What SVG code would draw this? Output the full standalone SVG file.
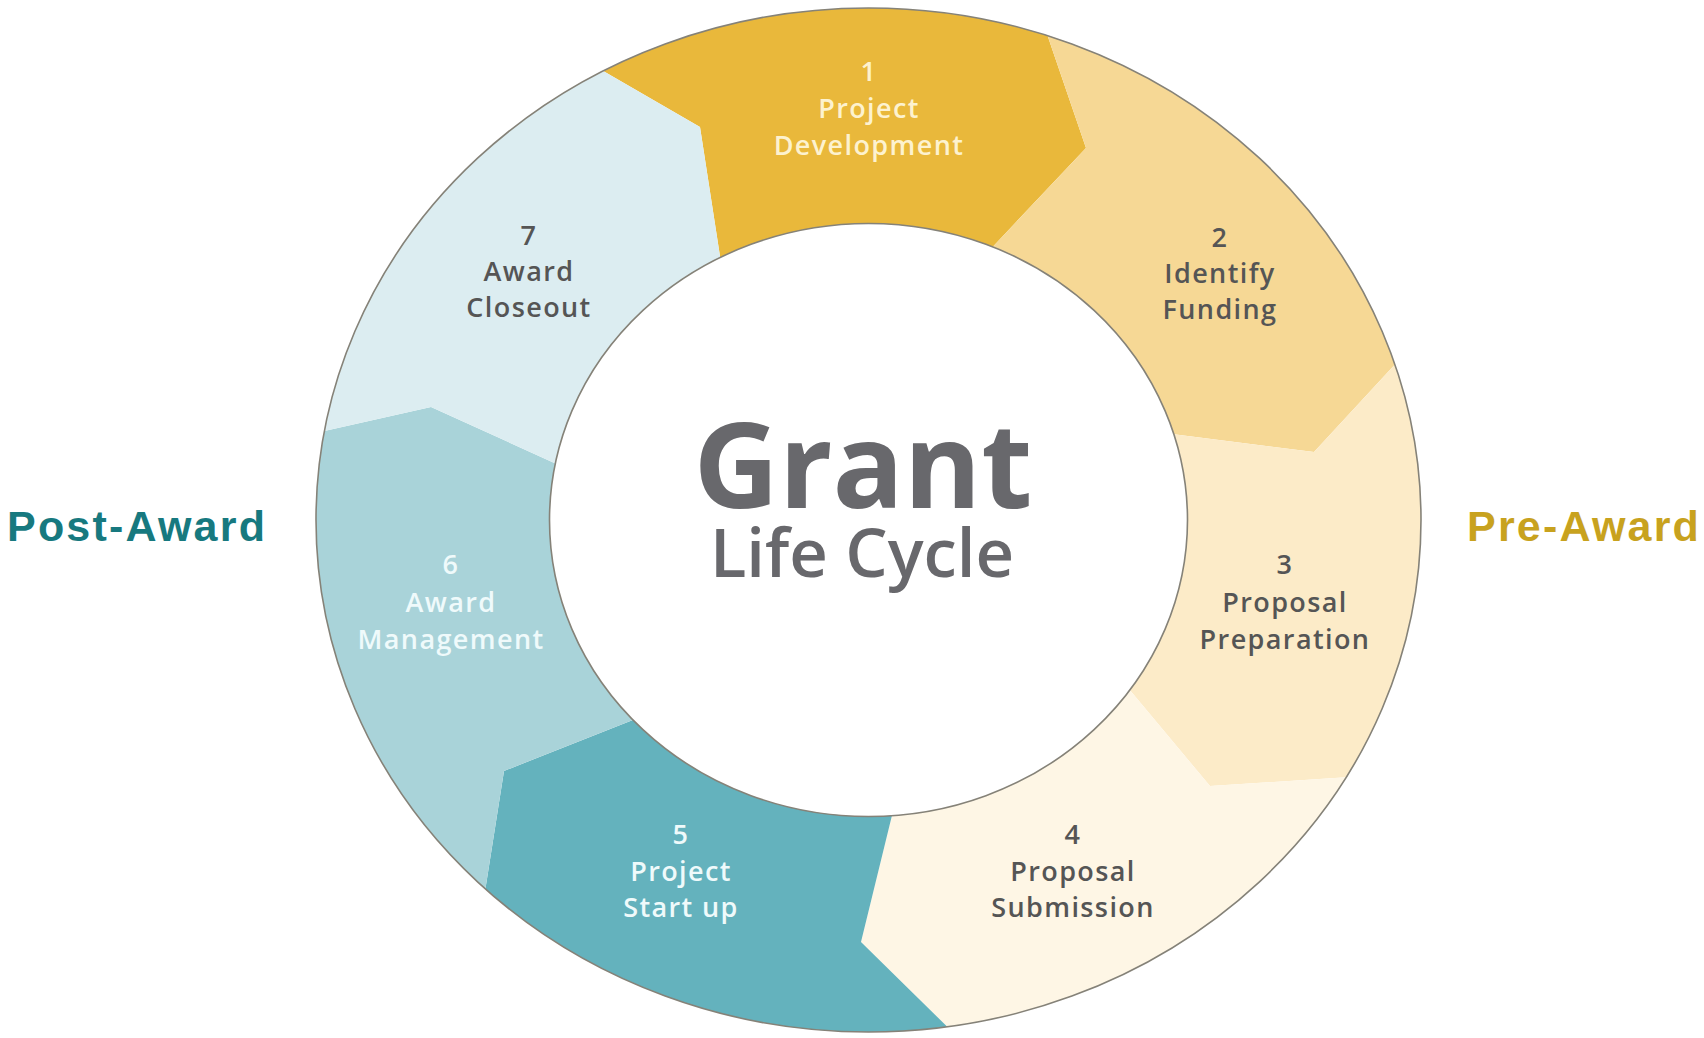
<svg xmlns="http://www.w3.org/2000/svg" width="1704" height="1038" viewBox="0 0 1704 1038">
<style>
.lbl{font-family:"Open Sans","Noto Sans",sans-serif;font-size:27px;text-anchor:middle;letter-spacing:1.4px}
.dark{fill:#555555;font-weight:600}
.lite1{fill:#fdf2cf;font-weight:600}
.lite5{fill:#effafb;font-weight:600}
.edge{fill:none;stroke:#858278;stroke-width:1.6}
.side{font-family:"Liberation Sans",Arial,sans-serif;font-size:43px;font-weight:700;letter-spacing:2.2px}
.title{font-family:"Open Sans","Noto Sans",sans-serif;fill:#68686c;text-anchor:middle}
</style>
<rect width="1704" height="1038" fill="#ffffff"/>
<g id="seg1">
<path d="M603.2,70.9 A552.5,512 0 0 1 1047.5,35.6 L1086,148 L992.6,246.9 A319,296.5 0 0 0 720.2,257.5 L700,127 Z" fill="#e9b83b"/>
<text class="lbl lite1" x="869" y="81">1</text>
<text class="lbl lite1" x="869" y="118">Project</text>
<text class="lbl lite1" x="869" y="155">Development</text>
</g>
<g id="seg2">
<path d="M1047.5,35.6 A552.5,512 0 0 1 1394.9,364.4 L1314,452 L1173.9,434.3 A319,296.5 0 0 0 992.6,246.9 L1086,148 Z" fill="#f6d895"/>
<text class="lbl dark" x="1220" y="247">2</text>
<text class="lbl dark" x="1220" y="283">Identify</text>
<text class="lbl dark" x="1220" y="319">Funding</text>
</g>
<g id="seg3">
<path d="M1394.9,364.4 A552.5,512 0 0 1 1346.2,777.3 L1210,786 L1129.8,690.1 A319,296.5 0 0 0 1173.9,434.3 L1314,452 Z" fill="#fcebc8"/>
<text class="lbl dark" x="1285" y="574">3</text>
<text class="lbl dark" x="1285" y="612">Proposal</text>
<text class="lbl dark" x="1285" y="649">Preparation</text>
</g>
<g id="seg4">
<path d="M1346.2,777.3 A552.5,512 0 0 1 947.3,1026.8 L861,942 L891.9,815.7 A319,296.5 0 0 0 1129.8,690.1 L1210,786 Z" fill="#fef6e5"/>
<text class="lbl dark" x="1073" y="844">4</text>
<text class="lbl dark" x="1073" y="881">Proposal</text>
<text class="lbl dark" x="1073" y="917">Submission</text>
</g>
<g id="seg5">
<path d="M947.3,1026.8 A552.5,512 0 0 1 485.4,888.9 L504,771 L632.9,719.9 A319,296.5 0 0 0 891.9,815.7 L861,942 Z" fill="#64b2bd"/>
<text class="lbl lite5" x="681" y="844">5</text>
<text class="lbl lite5" x="681" y="881">Project</text>
<text class="lbl lite5" x="681" y="917">Start up</text>
</g>
<g id="seg6">
<path d="M485.4,888.9 A552.5,512 0 0 1 324.4,431.1 L431,407 L555.4,463.4 A319,296.5 0 0 0 632.9,719.9 L504,771 Z" fill="#a9d3d9"/>
<text class="lbl lite5" x="451" y="574">6</text>
<text class="lbl lite5" x="451" y="612">Award</text>
<text class="lbl lite5" x="451" y="649">Management</text>
</g>
<g id="seg7">
<path d="M324.4,431.1 A552.5,512 0 0 1 603.2,70.9 L700,127 L720.2,257.5 A319,296.5 0 0 0 555.4,463.4 L431,407 Z" fill="#dcedf1"/>
<text class="lbl dark" x="529" y="245">7</text>
<text class="lbl dark" x="529" y="281">Award</text>
<text class="lbl dark" x="529" y="317">Closeout</text>
</g>
<g id="edges">
<ellipse class="edge" cx="868.5" cy="520" rx="552.5" ry="512"/>
<ellipse class="edge" cx="868.5" cy="520" rx="319" ry="296.5"/>
</g>
<g id="center">
<text class="title"><tspan x="863" y="508" font-size="118" font-weight="700">Grant</tspan><tspan x="862" y="577" font-size="67" font-weight="600">Life Cycle</tspan></text>
</g>
<g id="labels">
<text class="side" x="7" y="541" fill="#17797f">Post-Award</text>
<text class="side" x="1467" y="541" fill="#c8a21e">Pre-Award</text>
</g>
</svg>
